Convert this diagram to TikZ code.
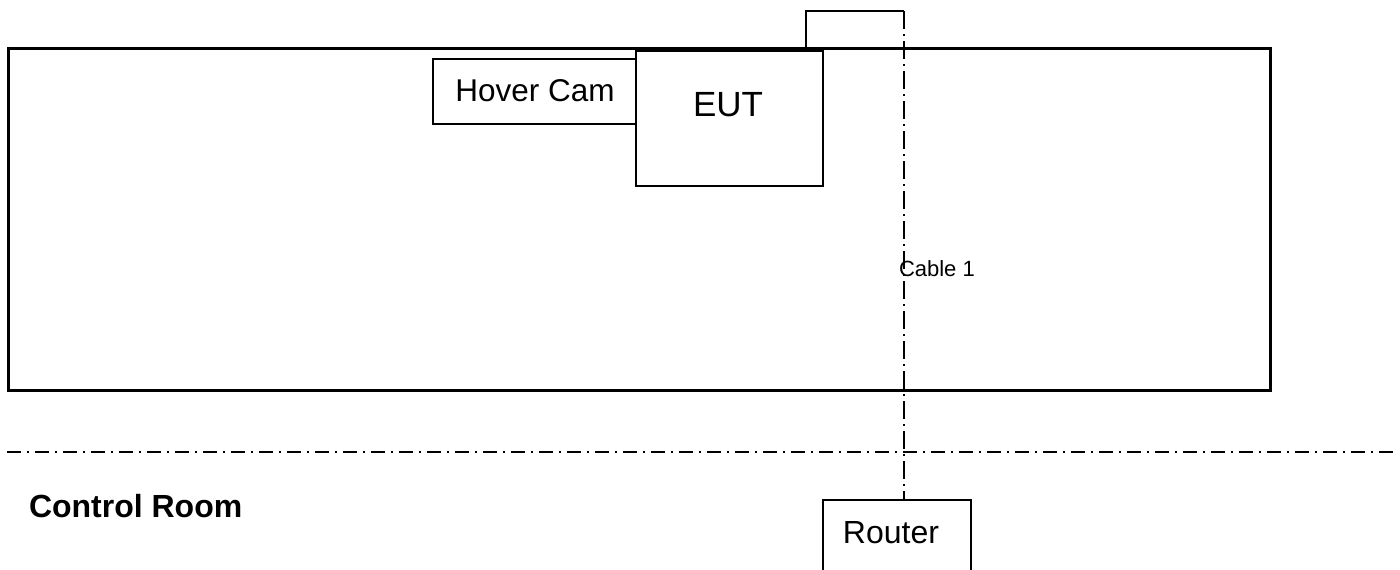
\documentclass[tikz,border=0pt]{standalone}
\usepackage{fontspec}
\setmainfont{Liberation Sans}
\begin{document}
\begin{tikzpicture}[x=1pt,y=-1pt,
  box/.style={draw=black,line width=1.8pt,inner sep=0pt,outer sep=0pt,rectangle},
  roombox/.style={draw=black,line width=3pt,inner sep=0pt,outer sep=0pt,rectangle},
  cableline/.style={line width=1.6pt,dash pattern=on 18pt off 5pt on 1.5pt off 5.5pt},
  divider/.style={line width=1.6pt,dash pattern=on 14pt off 6pt on 1.5pt off 6.5pt},
  lbl/.style={inner sep=0pt,outer sep=0pt,anchor=base}]
\useasboundingbox (0,0) rectangle (1400,570);
\begin{scope}
\clip (0,0) rectangle (1400,570);
% test room
\node[roombox,minimum width=1262pt,minimum height=342pt] (room) at (639,219) {};
% Hover Cam
\node[box,minimum width=203pt,minimum height=65pt] (cam) at (534.5,91.5) {};
% EUT
\node[box,minimum width=187pt,minimum height=135pt] (eut) at (729.5,118.5) {};
% Router
\node[box,minimum width=148pt,minimum height=90pt] (router) at (897,545) {};
% labels
\node[lbl] (camlbl) at (535,101.7) {\fontsize{31.5}{38}\selectfont Hover Cam};
\node[lbl] (eutlbl) at (728,116.7) {\fontsize{35}{42}\selectfont EUT};
\node[lbl] (routerlbl) at (891,543) {\fontsize{32}{38}\selectfont Router};
\node[lbl,anchor=base west] (cablelbl) at (899,276) {\fontsize{22}{26}\selectfont Cable 1};
\node[lbl,anchor=base west] (ctrl) at (29,517) {\fontsize{32}{38}\selectfont\bfseries Control Room};
% cable
\coordinate (c0) at (806,51);
\coordinate (c1) at (806,11);
\coordinate (c2) at (904,11);
\draw[line width=1.8pt] (c0) -- (c1) -- (c2);
\draw[cableline] (c2) -- (c2 |- router.north);
% divider
\coordinate (d0) at (7,452);
\coordinate (d1) at (1393,452);
\draw[divider] (d0) -- (d1);
\end{scope}
\end{tikzpicture}
\end{document}
